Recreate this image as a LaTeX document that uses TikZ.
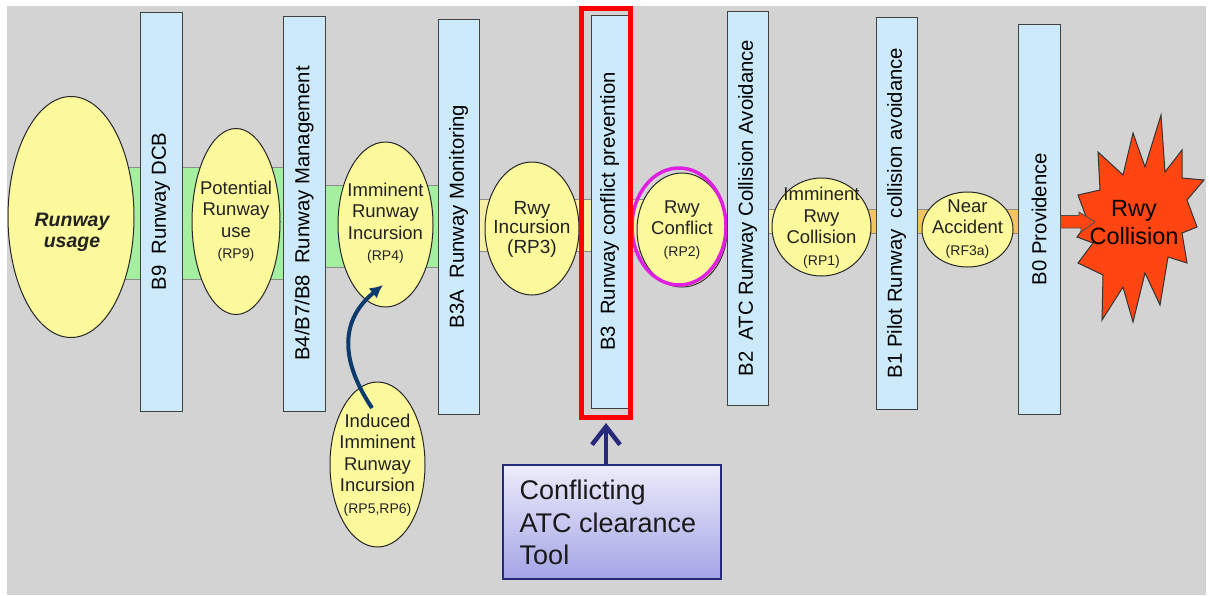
\documentclass[tikz,border=0pt]{standalone}
\usepackage{fontspec}
\setmainfont{Liberation Sans}
\usetikzlibrary{shapes.geometric,arrows.meta}
\definecolor{bgray}{HTML}{D3D3D3}
\definecolor{barblue}{HTML}{CDEAFB}
\definecolor{ovalyel}{HTML}{FCF89C}
\definecolor{bandgreen}{HTML}{A4F0A0}
\definecolor{bandyel}{HTML}{F6F0A4}
\definecolor{bandorange}{HTML}{F2C462}
\definecolor{burstred}{HTML}{FF4512}
\definecolor{navy}{HTML}{27297A}
\definecolor{curvblue}{HTML}{0D3B6E}
\definecolor{boxtop}{HTML}{ECECFB}
\definecolor{boxbot}{HTML}{A4A4E6}
\definecolor{magen}{HTML}{E020E0}
\definecolor{inktxt}{HTML}{222222}
\newcommand\barfnt{\fontsize{20.3}{24}\selectfont}
\newcommand\ovfnt{\fontsize{18.5}{21.5}\selectfont}
\newcommand\rpfnt{\fontsize{14}{19}\selectfont}
\begin{document}
\begin{tikzpicture}[x=1pt,y=-1pt,
  barbox/.style={draw=black!75, fill=barblue, rotate=90, inner sep=0pt, line width=1pt, font=\barfnt},
  oval/.style={ellipse, draw=black!85, fill=ovalyel, inner sep=0pt, line width=1pt},
  ovtxt/.style={align=center, inner sep=0pt, font=\ovfnt, text=inktxt},
  band/.style={draw=black!45, line width=0.6pt}
]
\useasboundingbox (0,0) rectangle (1209,595);
\fill[white] (0,0) rectangle (1209,595);
\fill[bgray] (7,6) rectangle (1206,595);

% bands
\draw[band, fill=bandgreen] (100,167) rectangle (300,279);
\draw[band, fill=bandgreen] (300,185) rectangle (460,267);
\draw[band, fill=bandyel] (460,199) rectangle (700,251);
\draw[band, fill=bandyel] (750,209) rectangle (800,233);
\draw[band, fill=bandorange] (800,209) rectangle (1040,233);

% ellipses
\node[oval, minimum width=126, minimum height=241] (ru) at (71,217) {};
\node[ovtxt, font=\fontsize{19.5}{21}\selectfont\bfseries\itshape] (rut) at (72,232) {Runway\\usage};
\node[oval, minimum width=88, minimum height=186] (rp9) at (236,221.5) {};
\node[ovtxt] (rp9t) at (236,221) {Potential\\Runway\\use\\{\rpfnt(RP9)}};
\node[oval, minimum width=95, minimum height=165] (rp4) at (385.5,224.5) {};
\node[ovtxt] (rp4t) at (385.5,223) {Imminent\\Runway\\Incursion\\{\rpfnt(RP4)}};
\node[oval, minimum width=95, minimum height=165] (ind) at (377.5,464.5) {};
\node[ovtxt] (indt) at (377.5,465) {Induced\\Imminent\\Runway\\Incursion\\{\rpfnt(RP5,RP6)}};
\node[oval, minimum width=94, minimum height=133] (rp3) at (532,228.5) {};
\node[ovtxt, font=\fontsize{19}{19.5}\selectfont] (rp3t) at (532,229) {Rwy\\Incursion\\(RP3)};
\node[oval, minimum width=90, minimum height=114] (rp2) at (682,230) {};
\node[ovtxt] (rp2t) at (682,230) {Rwy\\Conflict\\{\rpfnt(RP2)}};
\draw[magen, line width=3.5pt] (679,226.5) ellipse [x radius=47, y radius=58.5];
\node[oval, minimum width=99, minimum height=98] (rp1) at (821.5,227) {};
\node[ovtxt] (rp1t) at (821.5,227.5) {Imminent\\Rwy\\Collision\\{\rpfnt(RP1)}};
\node[oval, minimum width=91, minimum height=75] (ra) at (967.5,229.5) {};
\node[ovtxt] (rat) at (967.5,229) {Near\\Accident\\{\rpfnt(RF3a)}};

% bars
\node[barbox, minimum width=399, minimum height=42] (b9) at (161,211.5) {B9\ \ Runway DCB};
\node[barbox, minimum width=395, minimum height=42] (b4) at (304,213.5) {B4/B7/B8\ \ Runway Management};
\node[barbox, minimum width=395, minimum height=41] (b3a) at (458.5,216.5) {B3A\ \ Runway Monitoring};
\node[barbox, minimum width=393, minimum height=37] (b3) at (609.5,211.5) {B3\ \ Runway conflict prevention};
\node[barbox, minimum width=394, minimum height=41] (b2) at (747.5,208) {B2\ \ ATC Runway Collision Avoidance};
\node[barbox, minimum width=392, minimum height=41] (b1) at (896.5,213) {B1 Pilot Runway\ \ collision avoidance};
\node[barbox, minimum width=390, minimum height=42] (b0) at (1039,219) {B0 Providence};

% red frame
\node[draw=red, line width=5pt, minimum width=49, minimum height=409, inner sep=0pt] (frame) at (606,213) {};

% starburst
\draw[fill=burstred, draw=black!80, line width=1pt]
 (1161,115) -- (1165,172) -- (1182,150) -- (1182,178) -- (1204,180) -- (1187,200)
 -- (1197,227) -- (1182,233) -- (1187,263) -- (1168,257) -- (1160,305) -- (1145,273)
 -- (1133,322) -- (1123,287) -- (1102,320) -- (1103,275) -- (1078,263) -- (1093,243)
 -- (1077,237) -- (1088,222) -- (1078,195) -- (1100,190) -- (1098,152) -- (1123,175)
 -- (1133,133) -- (1145,167) -- cycle;
\node[align=center, inner sep=0pt, font=\fontsize{23.5}{28}\selectfont] (burst) at (1134,223) {Rwy\\Collision};

% red block arrow
\coordinate (arT) at (1095,222);
\draw[fill=burstred, draw=black!70, line width=0.8pt]
 (b0.south |- 0,215.5) -- (1079,215.5) -- (1079,212) -- (arT) -- (1081,232) -- (1081,228) -- (b0.south |- 0,228) -- cycle;

% tool box
\node[draw=navy, line width=1.6pt, top color=boxtop, bottom color=boxbot, minimum width=218, minimum height=114, inner sep=0pt] (tool) at (612,522) {};
\node[anchor=west, align=left, inner sep=0pt, font=\fontsize{27}{32.5}\selectfont, text=black!90] (toolt) at (519.5,522.5) {Conflicting\\ATC clearance\\Tool};
\draw[navy, line width=4.5pt, -{Straight Barb[length=18pt,width=28pt]}, shorten >=3pt] (tool.north -| frame.south) -- (frame.south);

% curved arrow
\coordinate (cs) at (372,408);
\coordinate (ce) at (383,285);
\draw[curvblue, line width=4pt, -{Latex[length=13pt,width=13pt]}] (cs) .. controls (340,360) and (340,320) .. (ce);
\end{tikzpicture}
\end{document}
